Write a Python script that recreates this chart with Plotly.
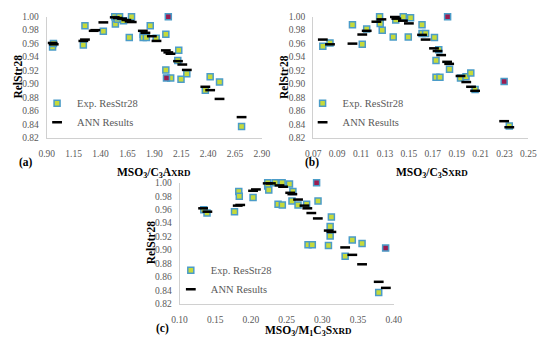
import plotly.graph_objects as go

W, H = 550, 345

# ---------------- Data ----------------
# Panel (a): MSO3/C3A_XRD
a_exp_x = [0.954, 0.962, 1.240, 1.255, 1.426, 1.532, 1.538, 1.556, 1.577, 1.613, 1.688, 1.667,
           1.796, 1.796, 1.826, 1.862, 1.917, 2.007, 2.007, 2.052, 2.127, 2.118, 2.148, 2.202,
           2.374, 2.419, 2.506, 2.711]
a_exp_y = [0.955, 0.960, 0.958, 0.9865, 0.9785, 1.000, 0.989, 0.996, 1.000, 0.994, 1.000, 0.969,
           0.974, 0.969, 0.969, 0.9865, 0.968, 0.974, 0.921, 0.909, 0.950, 0.935, 0.907, 0.9155,
           0.891, 0.911, 0.903, 0.837]
a_out_x = [2.030, 2.013]
a_out_y = [1.000, 0.909]
a_ann_x = [0.955, 0.965, 1.240, 1.255, 1.336, 1.351, 1.426, 1.532, 1.560, 1.600, 1.640, 1.670,
           1.690, 1.793, 1.817, 1.877, 1.920, 2.007, 2.030, 2.050, 2.120, 2.160, 2.202, 2.374,
           2.419, 2.506, 2.711]
a_ann_y = [0.961, 0.959, 0.964, 0.966, 0.979, 0.980, 0.9915, 0.999, 0.998, 0.997, 0.995, 0.993,
           0.992, 0.979, 0.976, 0.971, 0.964, 0.950, 0.947, 0.945, 0.934, 0.929, 0.921, 0.896,
           0.891, 0.878, 0.851]

# Panel (b): MSO3/C3S_XRD
b_exp_x = [0.078, 0.084, 0.1028, 0.111, 0.1147, 0.1255, 0.1260, 0.1277, 0.1369, 0.139, 0.1453,
           0.1495, 0.1514, 0.161, 0.161, 0.164, 0.1714, 0.175, 0.1727, 0.1727, 0.1760, 0.184,
           0.1932, 0.1978, 0.2018, 0.2054, 0.234]
b_exp_y = [0.956, 0.961, 0.988, 0.959, 0.9815, 1.000, 0.990, 0.980, 0.970, 0.995, 1.000,
           0.970, 0.9985, 0.988, 0.975, 0.975, 0.969, 0.951, 0.935, 0.910, 0.910, 0.922,
           0.909, 0.911, 0.9165, 0.892, 0.838]
b_out_x = [0.1824, 0.2297]
b_out_y = [1.000, 0.904]
b_ann_x = [0.078, 0.084, 0.1028, 0.111, 0.1147, 0.1228, 0.127, 0.1383, 0.1395, 0.145, 0.150,
           0.161, 0.164, 0.171, 0.174, 0.177, 0.182, 0.1837, 0.1932, 0.198, 0.202, 0.2054,
           0.2297, 0.234]
b_ann_y = [0.966, 0.959, 0.960, 0.9735, 0.979, 0.9925, 0.996, 0.9995, 0.997, 0.994, 0.990,
           0.973, 0.966, 0.953, 0.949, 0.943, 0.933, 0.930, 0.912, 0.903, 0.896, 0.890,
           0.845, 0.836]

# Panel (c): MSO3/M1C3S_XRD
c_exp_x = [0.134, 0.1385, 0.177, 0.183, 0.1837, 0.203, 0.2235, 0.2235, 0.225, 0.234, 0.2437,
           0.238, 0.244, 0.254, 0.2588, 0.2575, 0.266, 0.278, 0.294, 0.3127, 0.311, 0.311,
           0.280, 0.286, 0.3086, 0.332, 0.342, 0.3557, 0.379]
c_exp_y = [0.960, 0.955, 0.957, 0.987, 0.980, 0.978, 1.000, 0.995, 0.989, 1.000, 1.000,
           0.968, 0.967, 0.998, 0.987, 0.973, 0.967, 0.968, 0.973, 0.949, 0.935, 0.921,
           0.908, 0.908, 0.907, 0.891, 0.915, 0.910, 0.837]
c_out_x = [0.292, 0.3887]
c_out_y = [1.000, 0.903]
c_ann_x = [0.133, 0.139, 0.1815, 0.185, 0.203, 0.207, 0.2235, 0.228, 0.240, 0.245, 0.255,
           0.258, 0.266, 0.275, 0.279, 0.2846, 0.2937, 0.309, 0.3127, 0.332, 0.342, 0.3557,
           0.379, 0.389]
c_ann_y = [0.962, 0.957, 0.966, 0.967, 0.988, 0.990, 0.999, 0.999, 0.996, 0.994, 0.985,
           0.983, 0.975, 0.966, 0.962, 0.955, 0.947, 0.929, 0.927, 0.904, 0.893, 0.879,
           0.853, 0.844]

y_range = [0.82, 1.00]
a_range, b_range, c_range = [0.90, 2.90], [0.07, 0.25], [0.10, 0.40]
a_dtick, b_dtick, c_dtick = 0.25, 0.02, 0.05

legend_names = ["Exp. ResStr28", "ANN Results"]

# ---------------- Style ----------------
GREEN = "#c6da3a"
BLUE = "#4b9cc8"
MAG = "#9c1c50"
GRAY = "#595959"
AXIS = "#d0d0d0"
FONT = "Liberation Serif"


def px(x):
    return x / W


def py(y):
    return 1 - y / H


fig = go.Figure()

panels = [
    ("", "legend", a_exp_x, a_exp_y, a_out_x, a_out_y, a_ann_x, a_ann_y),
    ("2", "legend2", b_exp_x, b_exp_y, b_out_x, b_out_y, b_ann_x, b_ann_y),
    ("3", "legend3", c_exp_x, c_exp_y, c_out_x, c_out_y, c_ann_x, c_ann_y),
]

for sfx, leg, ex, ey, ox, oy, nx, ny in panels:
    xa, ya = "x" + sfx, "y" + sfx
    fig.add_trace(go.Scatter(
        x=ex, y=ey, mode="markers", name=legend_names[0], legend=leg,
        xaxis=xa, yaxis=ya, cliponaxis=False,
        marker=dict(symbol="square", size=6, color=GREEN, line=dict(color=BLUE, width=1.5))))
    fig.add_trace(go.Scatter(
        x=nx, y=ny, mode="markers", name=legend_names[1], legend=leg,
        xaxis=xa, yaxis=ya, cliponaxis=False,
        marker=dict(symbol="line-ew", size=7, color="black", line=dict(color="black", width=2.5))))
    fig.add_trace(go.Scatter(
        x=ox, y=oy, mode="markers", showlegend=False,
        xaxis=xa, yaxis=ya, cliponaxis=False,
        marker=dict(symbol="square", size=6, color=MAG, line=dict(color=BLUE, width=1.5))))


def xaxis(domain, rng, dtick, anchor):
    return dict(domain=domain, range=rng, dtick=dtick, tick0=rng[0], anchor=anchor,
                tickformat=".2f", showgrid=False, zeroline=False, showline=True,
                linecolor=AXIS, linewidth=1, ticks="", ticklabelstandoff=7,
                tickfont=dict(family=FONT, size=9.5, color=GRAY))


def yaxis(domain, anchor):
    return dict(domain=domain, range=y_range, dtick=0.02, tick0=0.82, anchor=anchor,
                tickformat=".2f", showgrid=False, zeroline=False, showline=True,
                linecolor=AXIS, linewidth=1, ticks="", ticklabelstandoff=5,
                tickfont=dict(family=FONT, size=9.5, color=GRAY))


fig.update_layout(
    width=W, height=H, margin=dict(l=0, r=0, t=0, b=0),
    paper_bgcolor="white", plot_bgcolor="white",
    xaxis=xaxis([px(40), px(262)], a_range, a_dtick, "y"),
    yaxis=yaxis([py(137), py(12)], "x"),
    xaxis2=xaxis([px(315), px(537)], b_range, b_dtick, "y2"),
    yaxis2=yaxis([py(137), py(12)], "x2"),
    xaxis3=xaxis([px(177), px(398)], c_range, c_dtick, "y3"),
    yaxis3=yaxis([py(308), py(183)], "x3"),
)

leg_style = dict(font=dict(family=FONT, size=10.5, color=GRAY), bgcolor="rgba(0,0,0,0)",
                 xanchor="left", yanchor="middle", itemwidth=30, tracegroupgap=0)
fig.update_layout(
    legend=dict(x=px(30), y=py(111), **leg_style),
    legend2=dict(x=px(304), y=py(111), **leg_style),
    legend3=dict(x=px(168), y=py(283), **leg_style),
)

title_font = dict(family=FONT, size=11.5, color="black")
sc = '<span style="font-size:9px">XRD</span>'
annots = [
    (151, 173, "<b>MSO<sub>3</sub>/C<sub>3</sub>A" + sc + "</b>", 0),
    (438, 173, "<b>MSO<sub>3</sub>/C<sub>3</sub>S" + sc + "</b>", 0),
    (310, 336, "<b>MSO<sub>3</sub>/M<sub>1</sub>C<sub>3</sub>S" + sc + "</b>", 0),
    (10, 74, "<b>RelStr28</b>", -90),
    (285, 74, "<b>RelStr28</b>", -90),
    (148, 244, "<b>RelStr28</b>", -90),
    (19, 162, "<b>(a)</b>", 0),
    (314, 162, "<b>(b)</b>", 0),
    (159, 333, "<b>(c)</b>", 0),
]
for x, y, t, ang in annots:
    fig.add_annotation(x=px(x), y=py(y), xref="paper", yref="paper", text=t, showarrow=False,
                       textangle=ang, font=title_font, xanchor="center", yanchor="middle")

fig.write_html("out.html", post_script="document.body.style.margin='0';",
               config={"displayModeBar": False})
